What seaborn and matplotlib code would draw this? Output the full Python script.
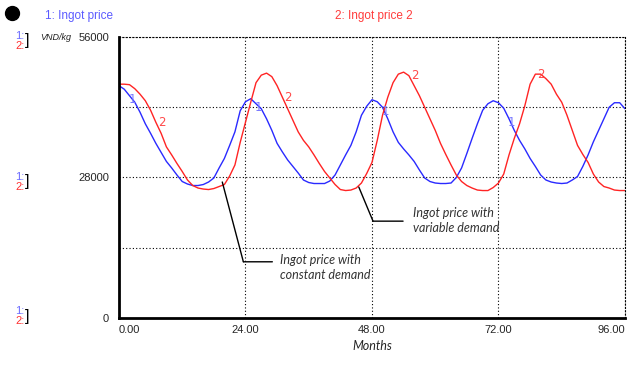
import matplotlib
matplotlib.use("Agg")
import matplotlib.pyplot as plt
from matplotlib.lines import Line2D
import seaborn as sns
import pandas as pd

months = list(range(0, 97))
ingot_price = [46.3, 45.6, 44.3, 43.0, 41.0, 38.7, 36.8, 34.8, 33.0, 31.2,
               29.9, 28.5, 27.2, 26.7, 26.4, 26.4, 26.6, 27.1, 27.9, 29.9,
               31.8, 34.4, 37.1, 41.3, 43.1, 43.7, 42.7, 41.7, 39.7, 37.4,
               34.8, 33.1, 31.5, 30.2, 28.9, 27.5, 27.0, 26.8, 26.8, 26.8,
               27.3, 28.5, 30.5, 32.5, 34.4, 37.1, 40.4, 42.2, 43.5, 43.1,
               42.0, 39.7, 37.1, 35.0, 33.7, 32.5, 31.2, 29.5, 27.9, 27.2,
               26.9, 26.8, 26.8, 26.9, 28.0, 29.9, 32.8, 35.8, 38.7, 41.4,
               42.7, 43.3, 42.9, 41.8, 39.7, 37.4, 35.4, 33.7, 31.8, 30.2,
               28.5, 27.5, 27.1, 26.9, 26.8, 26.9, 27.5, 28.2, 30.2, 32.5,
               35.1, 37.4, 39.7, 42.0, 42.9, 42.9, 41.7]
ingot_price_2 = [46.6, 46.6, 46.5, 45.7, 44.6, 43.3, 41.4, 39.0, 36.8, 34.1,
                 32.5, 30.8, 29.2, 27.5, 26.4, 25.9, 25.7, 25.6, 25.8, 26.2,
                 26.6, 28.3, 30.5, 35.0, 39.0, 43.0, 46.9, 48.4, 48.8, 48.1,
                 46.3, 44.0, 41.7, 39.4, 37.1, 35.4, 34.1, 32.5, 30.8, 29.2,
                 27.9, 26.6, 25.6, 25.4, 25.5, 25.9, 26.9, 28.8, 31.0, 35.4,
                 40.4, 44.0, 46.9, 48.6, 49.0, 48.3, 46.3, 44.3, 42.0, 39.7,
                 37.4, 34.8, 32.6, 30.5, 28.5, 27.2, 26.4, 25.9, 25.5, 25.4,
                 25.4, 26.0, 26.9, 28.7, 32.5, 35.8, 38.7, 42.3, 46.6, 48.6,
                 48.6, 47.7, 46.6, 44.6, 43.0, 40.4, 37.4, 34.4, 32.6, 31.0,
                 28.7, 27.1, 26.2, 25.9, 25.5, 25.4, 25.4]
ingot_price = [v * 1000 for v in ingot_price]
ingot_price_2 = [v * 1000 for v in ingot_price_2]

x_ticks = [0, 24, 48, 72, 96]
x_tick_labels = ["0.00", "24.00", "48.00", "72.00", "96.00"]
y_ticks = [0, 14000, 28000, 42000, 56000]
y_tick_labels = ["0", "", "28000", "", "56000"]
label1_months = [2, 26, 50, 74]
label2_months = [7, 31, 55, 79]

BLUE = "#2a2aff"
RED = "#ff2424"

sns.set_style("white")
plt.rcParams["font.family"] = ["Liberation Sans", "DejaVu Sans"]

df = pd.DataFrame({"Months": months * 2,
                   "value": ingot_price + ingot_price_2,
                   "series": ["1: Ingot price"] * len(months) + ["2: Ingot price 2"] * len(months)})

fig = plt.figure(figsize=(6.41, 3.65), dpi=100)
ax = fig.add_axes([0.1856, 0.1288, 0.7894, 0.7698])
sns.lineplot(data=df, x="Months", y="value", hue="series",
             palette={"1: Ingot price": BLUE, "2: Ingot price 2": RED},
             linewidth=1.0, legend=False, ax=ax)

ax.set_xlim(0, 96)
ax.set_ylim(0, 56000)
ax.set_xticks(x_ticks)
ax.set_xticklabels(x_tick_labels, fontsize=8)
xl = ax.get_xticklabels()
xl[0].set_ha("left")
xl[-1].set_ha("right")
ax.set_yticks(y_ticks)
ax.set_yticklabels(y_tick_labels, fontsize=8)
ax.tick_params(axis="both", direction="out", length=5, width=2, color="black", pad=2)
ax.tick_params(axis="x", length=3)
ax.set_xlabel("Months", fontsize=9, fontstyle="italic", family=["Lato", "DejaVu Sans"], labelpad=4)
ax.set_ylabel("")
ax.grid(True, color="black", linestyle=(0, (1, 2)), linewidth=0.8)
for s in ["left", "bottom"]:
    ax.spines[s].set_linewidth(2)
    ax.spines[s].set_color("black")
for s in ["top", "right"]:
    ax.spines[s].set_linestyle((0, (1, 2)))
    ax.spines[s].set_linewidth(0.8)
    ax.spines[s].set_color("black")

# curve number labels
for m in label1_months:
    ax.annotate("1", (m, ingot_price[months.index(m)]), xytext=(2, -3), textcoords="offset points",
                color="#7a7aff", fontsize=8.5, ha="center", va="center", family=["DejaVu Sans"])
for m in label2_months:
    ax.annotate("2", (m, ingot_price_2[months.index(m)]), xytext=(4, 0), textcoords="offset points",
                color="#ff4a4a", fontsize=8.5, ha="center", va="center", family=["DejaVu Sans"])

# annotations
anno_font = dict(fontsize=9, fontstyle="italic", color="#333333", family=["Lato", "DejaVu Sans"])
line_kw = dict(arrowstyle="-", color="black", lw=1, shrinkA=0, shrinkB=0)
ax.annotate("", xy=(19.6, 27100), xytext=(23.6, 11200), arrowprops=line_kw)
ax.annotate("", xy=(23.6, 11200), xytext=(29.1, 11200), arrowprops=line_kw)
ax.text(30.6, 12800, "Ingot price with\nconstant demand", va="top", ha="left",
        linespacing=1.35, **anno_font)
ax.annotate("", xy=(45.5, 26100), xytext=(48.2, 19300), arrowprops=line_kw)
ax.annotate("", xy=(48.2, 19300), xytext=(53.9, 19300), arrowprops=line_kw)
ax.text(55.8, 22200, "Ingot price with\nvariable demand", va="top", ha="left",
        linespacing=1.35, **anno_font)

# header / left labels
fig.add_artist(Line2D([12 / 641], [1 - 13 / 365], marker="o", markersize=10, color="black",
                      transform=fig.transFigure))
fig.text(45 / 641, 1 - 16 / 365, "1: Ingot price", color="#5b5bff", fontsize=8.5, va="center")
fig.text(335 / 641, 1 - 16 / 365, "2: Ingot price 2", color="#ff3b3b", fontsize=8.5, va="center")
fig.text(40 / 641, 1 - 37 / 365, "VND/kg", fontsize=6.5, fontstyle="italic", va="center",
         color="#222222")
for ytop in [36, 177, 311]:
    fig.text(15 / 641, 1 - ytop / 365, "1:", color="#6b6bff", fontsize=8, va="center")
    fig.text(15 / 641, 1 - (ytop + 10) / 365, "2:", color="#ff3030", fontsize=8, va="center")
    fig.text(25 / 641, 1 - (ytop + 5) / 365, "]", color="black", fontsize=12, va="center")

fig.savefig("out.png", dpi=100)
